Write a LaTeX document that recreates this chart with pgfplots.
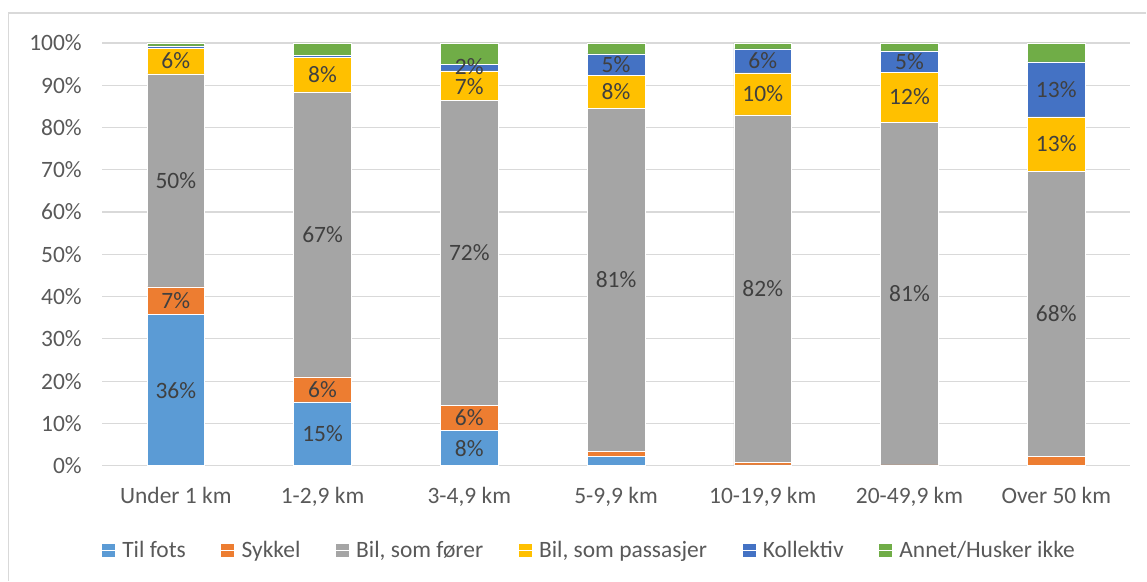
\documentclass[border=0pt]{standalone}
\usepackage{fontspec}
\setmainfont{Carlito}
\usepackage{pgfplots}
\usepackage{pgfplotstable}
\pgfplotsset{compat=1.18}

\definecolor{cfots}{HTML}{5B9BD5}
\definecolor{csykkel}{HTML}{ED7D31}
\definecolor{cforer}{HTML}{A5A5A5}
\definecolor{cpass}{HTML}{FFC000}
\definecolor{ckoll}{HTML}{4472C4}
\definecolor{cannet}{HTML}{70AD47}
\definecolor{gridgrey}{HTML}{D9D9D9}
\definecolor{ticktext}{HTML}{595959}
\definecolor{labtext}{HTML}{404040}

% andeler i prosent per avstandsgruppe
\pgfplotstableread{
x  tf   sy   bf   bp   ko   an
0  35.7 6.6  50.4 6.1  0.5  0.7
1  15.1 5.9  67.4 8.1  0.5  3.0
2  8.3  5.9  72.3 6.9  1.6  5.0
3  2.1  1.2  81.3 7.8  5.0  2.6
4  0.2  0.5  82.3 9.9  5.7  1.4
5  0.0  0.2  81.1 11.8 5.0  1.9
6  0.0  2.1  67.6 12.8 13.0 4.5
}\reisedata

% dataetiketter: midt i hvert segment
\pgfplotstableread{
x  y      lab
0  17.85  36\%
0  39.0   7\%
0  67.5   50\%
0  95.75  6\%
1  7.55   15\%
1  18.05  6\%
1  54.7   67\%
1  92.45  8\%
2  4.15   8\%
2  11.25  6\%
2  50.35  72\%
2  89.7   7\%
2  94.5   2\%
3  43.95  81\%
3  88.5   8\%
3  94.9   5\%
4  41.85  82\%
4  87.95  10\%
4  95.75  6\%
5  40.75  81\%
5  87.2   12\%
5  95.6   5\%
6  35.9   68\%
6  76.1   13\%
6  89.0   13\%
}\etiketter

\pgfplotsset{
  felles/.style={
    at={(0,0)}, anchor=south west,
    scale only axis,
    width=771pt, height=317.25pt,
    xmin=-0.5, xmax=6.5, ymin=0, ymax=100,
  },
  seg/.style={fill=#1, draw=white, line width=0.4pt},
}

\begin{document}
\begin{tikzpicture}[font=\fontsize{17.6pt}{21pt}\selectfont]
\begin{axis}[
  felles,
  ybar stacked, bar width=43.2pt,
  xtick=data,
  xticklabels={{Under 1 km},{1-2,9 km},{3-4,9 km},{5-9,9 km},{10-19,9 km},{20-49,9 km},{Over 50 km}},
  ytick={0,10,...,100},
  yticklabels={0\%,10\%,20\%,30\%,40\%,50\%,60\%,70\%,80\%,90\%,100\%},
  ymajorgrids, grid style={gridgrey, line width=0.9pt},
  axis line style={draw=none},
  tick style={draw=none}, major tick length=0pt,
  tick label style={text=ticktext},
  xticklabel style={yshift=-13pt},
  yticklabel style={xshift=-12pt},
  legend style={at={(axis description cs:0.474,-0.201)}, anchor=center,
    draw=none, legend columns=6, text=ticktext,
    /tikz/every even column/.append style={column sep=24pt}},
  legend image code/.code={
    \fill[#1] (0pt,-5.25pt) rectangle (10.5pt,5.25pt);
    \path (0pt,0pt) -- (13.5pt,0pt);},
]
\addplot[seg=cfots] table[x=x, y=tf] {\reisedata};
\addplot[seg=csykkel] table[x=x, y=sy] {\reisedata};
\addplot[seg=cforer] table[x=x, y=bf] {\reisedata};
\addplot[seg=cpass] table[x=x, y=bp] {\reisedata};
\addplot[seg=ckoll] table[x=x, y=ko] {\reisedata};
\addplot[seg=cannet] table[x=x, y=an] {\reisedata};
\legend{Til fots,Sykkel,{Bil, som fører},{Bil, som passasjer},Kollektiv,Annet/Husker ikke}
\end{axis}
\begin{axis}[felles, hide axis]
\addplot[draw=none, mark=none, nodes near coords, point meta=explicit symbolic,
  every node near coord/.style={anchor=center, text=labtext}]
  table[x=x, y=y, meta=lab] {\etiketter};
\end{axis}
\draw[gridgrey, line width=1.3pt] (-70.5pt,-86.25pt) -- (-70.5pt,339.75pt) -- (783.4pt,339.75pt);
\useasboundingbox (-76.875pt,-86.25pt) rectangle (783.375pt,349.5pt);
\end{tikzpicture}
\end{document}
